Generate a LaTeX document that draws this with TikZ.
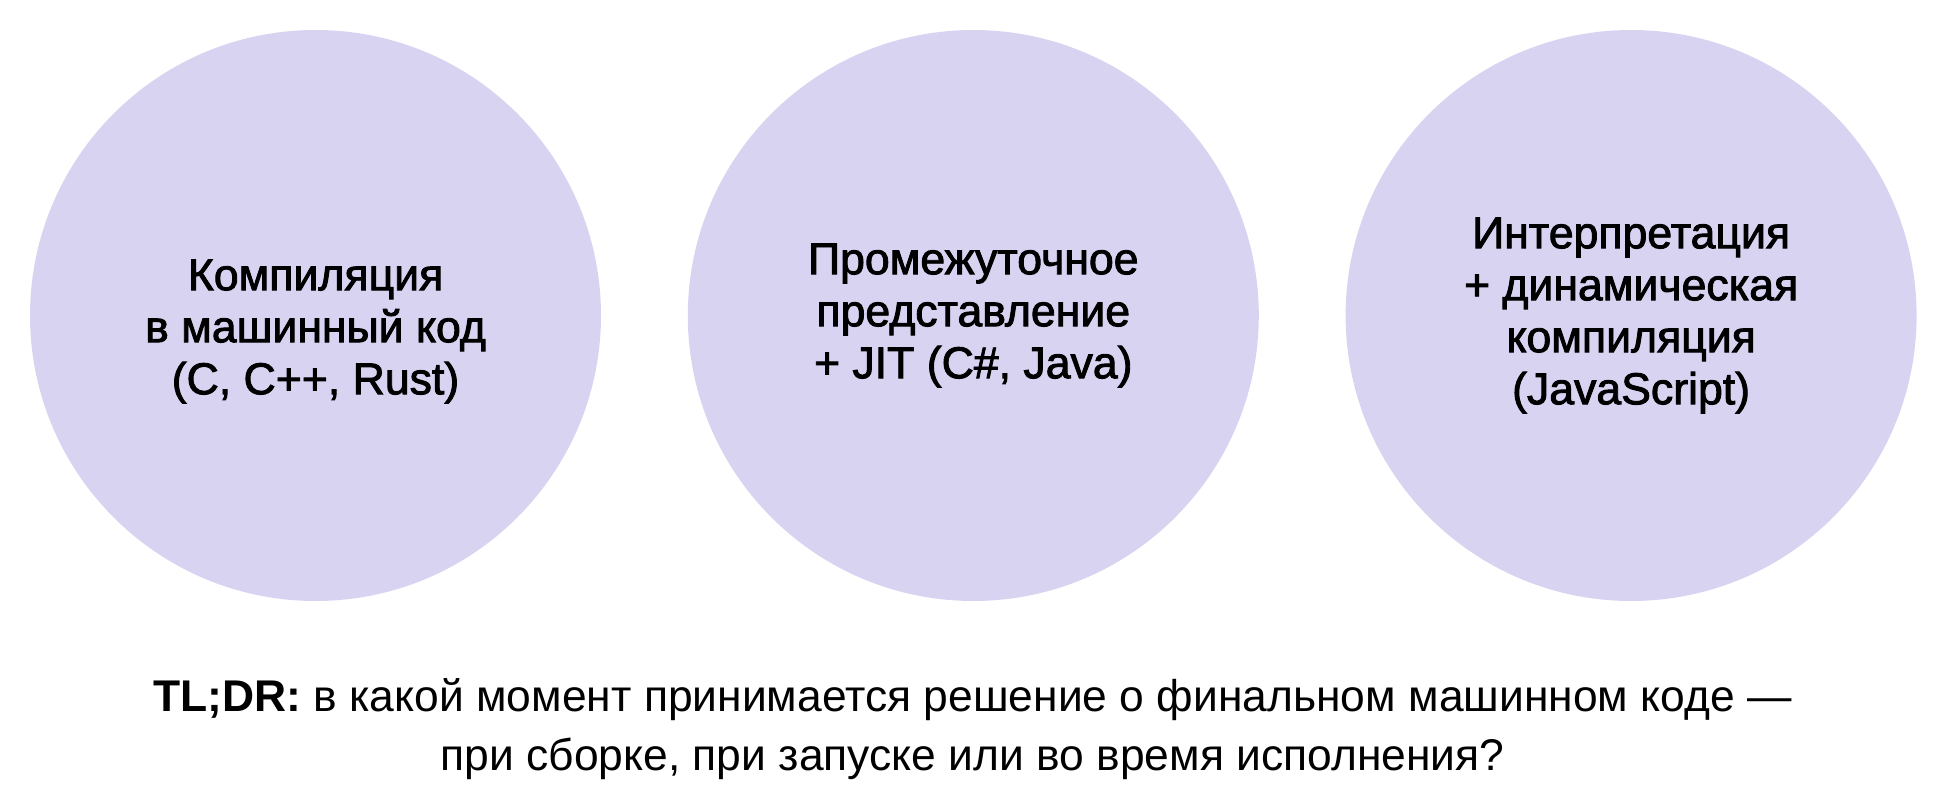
\documentclass[tikz,border=0pt]{standalone}
\usepackage{fontspec}
\setmainfont{Liberation Sans}
\newfontfamily\bubblefont[FakeBold=2]{Liberation Sans}
\usetikzlibrary{positioning}
\definecolor{bubblefill}{HTML}{D9D3F2}

\begin{document}
\begin{tikzpicture}[x=0.5pt, y=-0.5pt,
        bubble/.style={circle, fill=bubblefill, minimum size=285.5pt, inner sep=0pt},
        bubbletext/.style={align=center, font=\bubblefont\fontsize{22.3}{26}\selectfont},
        note/.style={align=center, font=\fontsize{22.2}{29.5}\selectfont}]
        \useasboundingbox (0,0) rectangle (1945,796);

        \node[bubble] (compile) at (315.5,315.5) {};
        \node[bubble, bubbletext, right=43pt of compile] (jit) {Промежуточное\\представление\\+ JIT (C\#, Java)};
        \node[bubble, bubbletext, right=43pt of jit] (interp) {Интерпретация\\+ динамическая\\компиляция\\(JavaScript)};
        \node[bubbletext] (compiletext) at ([yshift=-8pt]compile.center) {Компиляция\\в машинный код\\(C, C++, Rust)};

        \node[note, anchor=base] (tldr) at (972.5,770) {\textbf{TL;DR:} в какой момент принимается решение о финальном машинном коде —\\при сборке, при запуске или во время исполнения?};
    \end{tikzpicture}
\end{document}
